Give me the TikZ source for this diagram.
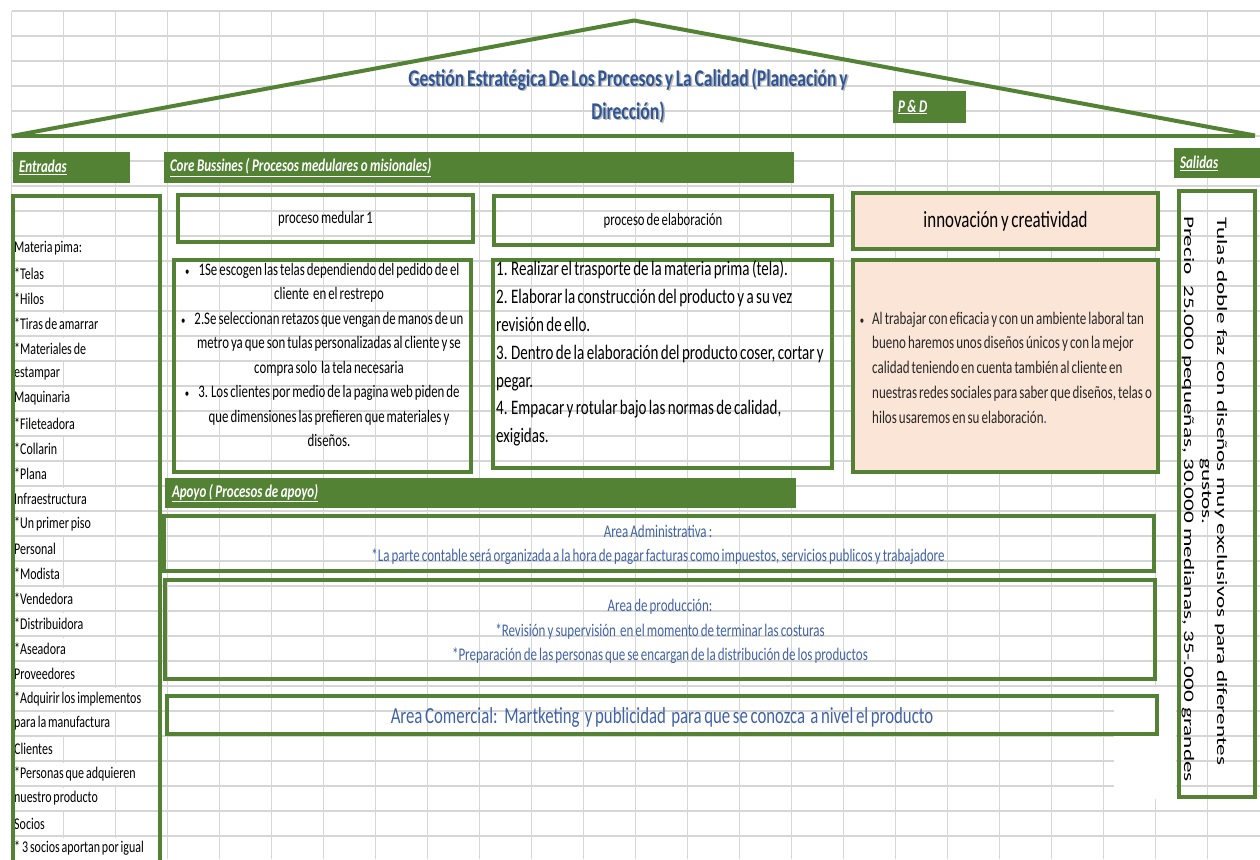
\documentclass[tikz,border=0pt]{standalone}
\usepackage{fontspec}
\setmainfont{Carlito}[FakeStretch=0.73, WordSpace=0.7]
\newfontfamily\anchafont{Carlito}[FakeStretch=1.6]
\newcommand\subr[1]{\underline{\spaceskip=2.5pt\relax #1}}
\newcommand\vineta{{\fontsize{12}{12}\selectfont\textbullet}}

\definecolor{verde}{RGB}{84,130,53}
\definecolor{durazno}{RGB}{251,229,214}
\definecolor{azul}{RGB}{47,85,151}
\definecolor{azulclaro}{RGB}{64,98,168}
\definecolor{cuadricula}{RGB}{214,214,214}

\begin{document}
\begin{tikzpicture}[x=1pt,y=-1pt,
		linea/.style={draw=cuadricula, line width=1.2pt},
		techo/.style={draw=verde, line width=4pt, line join=miter},
		caja/.style={draw=verde, line width=3.5pt, inner sep=0pt, outer sep=0pt},
		encabezado/.style={fill=verde, text=white, anchor=north west, outer sep=0pt,
			inner xsep=6pt, inner ysep=0pt, align=left,
			font=\bfseries\itshape\fontsize{17.8}{20}\selectfont},
		item/.style={anchor=west, fill=white, inner xsep=1pt, inner ysep=0pt,
			minimum height=22pt, font=\fontsize{16.4}{20}\selectfont},
		texto/.style={inner sep=0pt, font=\fontsize{17.6}{24.5}\selectfont},
		area/.style={inner sep=0pt, align=center, text=azulclaro},
		titulo/.style={align=center, text=azul, font=\bfseries\fontsize{24}{33}\selectfont}]
	\useasboundingbox (0,0) rectangle (1260,859);

	\foreach \i in {0,...,23}
		\draw[linea] ({11.7+52*\i},11) -- ({11.7+52*\i},859);
	\foreach \j in {0,...,34}
		\draw[linea] (11.7,{11+25*\j}) -- (1260,{11+25*\j});
	\fill[white] (1114,687) rectangle (1176,799);

	% techo
	\draw[techo] (11.7,136) -- (634,20.5) -- (1255,135.5);
	\draw[techo] (11.7,136) -- (1255,136);
	\node[titulo, text=gray!55] (sombra) at (629.5,97) {Gestión Estratégica De Los Procesos y La Calidad (Planeación y\\Dirección)};
	\node[titulo] (titulo) at (628,95.5) {Gestión Estratégica De Los Procesos y La Calidad (Planeación y\\Dirección)};
	\node[encabezado, minimum height=32pt, text width=63pt, inner xsep=5pt] (pd) at (893,91) {\subr{P \& D}};

	\node[encabezado, minimum height=31pt, text width=105pt] (entradas) at (13,152) {\subr{Entradas}};
	\node[encabezado, minimum height=31pt, text width=618pt] (core) at (164,152) {\subr{Core Bussines ( Procesos medulares o misionales)}};
	\node[encabezado, minimum height=30pt, text width=74pt] (salidas) at (1174,148) {\subr{Salidas}};
	\node[encabezado, minimum height=30pt, text width=617pt, inner xsep=7pt] (apoyo) at (165,478) {\subr{Apoyo ( Procesos de apoyo)}};

	% entradas
	\foreach \t [count=\k from 0] in {Materia pima:, *Telas, *Hilos, *Tiras de amarrar,
			*Materiales de, estampar, Maquinaria, *Fileteadora, *Collarin, *Plana,
			Infraestructura, *Un primer piso, Personal, *Modista, *Vendedora,
			*Distribuidora, *Aseadora, Proveedores, *Adquirir los implementos,
			para la manufactura, Clientes, *Personas que adquieren, nuestro producto,
			Socios, * 3 socios aportan por igual}
		\node[item] (e\k) at (13,{248.5+25*\k}) {\t};
	\draw[caja] (13,196) rectangle (160,880);

	% procesos medulares
	\node[caja, minimum width=295pt, minimum height=47pt, font=\fontsize{17.4}{20}\selectfont] (medular) at (325.5,218.5) {proceso medular 1};
	\node[caja, minimum width=297pt, minimum height=212pt] (medularlista) at (322.5,366) {};
	\node[texto, align=center] (pasos) at (329,355) {%
		\leavevmode\llap{\vineta\hspace{9pt}}1Se escogen las telas dependiendo del pedido de el\\
		cliente \ en el restrepo\\
		\leavevmode\llap{\vineta\hspace{9pt}}2.Se seleccionan retazos que vengan de manos de un\\
		metro ya que son tulas personalizadas al cliente y se\\
		compra solo \ la tela necesaria\\
		\leavevmode\llap{\vineta\hspace{9pt}}3. Los clientes por medio de la pagina web piden de\\
		que dimensiones las prefieren que materiales y\\
		diseños.};

	\node[caja, minimum width=338pt, minimum height=49pt, font=\fontsize{17.4}{20}\selectfont] (elaboracion) at (663,220.5) {proceso de elaboración};
	\node[caja, minimum width=339pt, minimum height=208pt] (elablista) at (662.5,364) {};
	\node[texto, anchor=west, align=left, font=\fontsize{20.6}{27.8}\selectfont] (pasoselab) at (496,353.5) {%
		1. Realizar el trasporte de la materia prima (tela).\\
		2. Elaborar la construcción del producto y a su vez\\
		revisión de ello.\\
		3. Dentro de la elaboración del producto coser, cortar y\\
		pegar.\\
		4. Empacar y rotular bajo las normas de calidad,\\
		exigidas.};

	\node[caja, fill=durazno, minimum width=305pt, minimum height=56pt, font=\fontsize{23.2}{26}\selectfont] (innovacion) at (1005.5,221) {innovación y creatividad};
	\node[caja, fill=durazno, minimum width=305pt, minimum height=212pt] (innovlista) at (1005.5,366) {};
	\node[texto, anchor=west, align=left, text=black!85, font=\fontsize{17.8}{24.75}\selectfont] (ambiente) at (872,367.5) {%
		\leavevmode\llap{\vineta\hspace{8pt}}Al trabajar con eficacia y con un ambiente laboral tan\\
		bueno haremos unos diseños únicos y con la mejor\\
		calidad teniendo en cuenta también al cliente en\\
		nuestras redes sociales para saber que diseños, telas o\\
		hilos usaremos en su elaboración{\color{azul}.}};

	% salidas
	\node[caja, minimum width=76pt, minimum height=606pt] (salidasbox) at (1217,494) {};
	\node[rotate=-90, align=center, inner sep=0pt, font=\anchafont\fontsize{14.5}{15}\selectfont] (tulas) at (1213.5,491.5) {Tulas doble faz con diseños muy exclusivos para diferentes\\gustos.};
	\node[rotate=-90, inner sep=0pt, font=\anchafont\fontsize{14.5}{15}\selectfont] (precio) at (1188,499) {Precio\ \ 25.000 pequeñas, 30.000 medianas, 35-.000 grandes};

	% apoyo
	\node[caja, minimum width=990pt, minimum height=55pt] (administrativa) at (659,543.5) {};
	\node[area, font=\fontsize{17.8}{24}\selectfont] (admintexto) at (658,545) {Area Administrativa :\\
		*La parte contable será organizada a la hora de pagar facturas como impuestos, servicios publicos y trabajadore};
	\node[caja, minimum width=990pt, minimum height=99pt] (produccion) at (660,629.5) {};
	\node[area, font=\fontsize{17.8}{24.5}\selectfont] (prodtexto) at (660,631.5) {Area de producción:\\
		*Revisión y supervisión \ en el momento de terminar las costuras\\
		*Preparación de las personas que se encargan de la distribución de los productos};
	\node[caja, minimum width=990pt, minimum height=38pt] (comercial) at (662,715) {};
	\node[area, font=\fontsize{23}{24}\selectfont] (comtexto) at (662,717) {Area Comercial: \ Martketing \ y publicidad \ para que se conozca \ a nivel el producto};
\end{tikzpicture}
\end{document}
